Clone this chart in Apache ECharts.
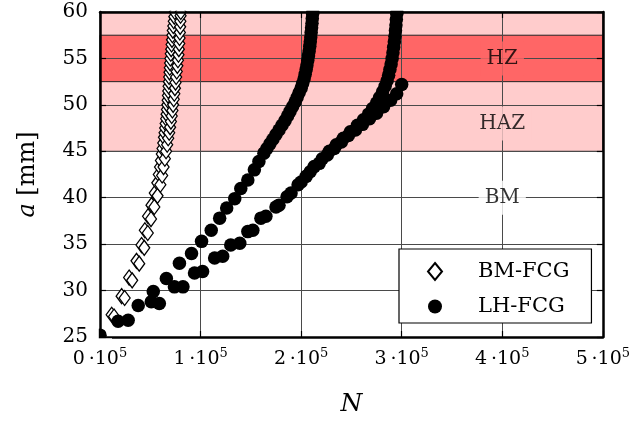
<!DOCTYPE html>
<html><head><meta charset="utf-8">
<script src="https://cdn.jsdelivr.net/npm/echarts@6/dist/echarts.min.js"></script>
<style>html,body{margin:0;padding:0;background:#fff}#c{width:633px;height:426px}</style>
</head><body><div id="c"></div>
<script>
// N in units of 1e5 cycles, a in mm
const bmTrackA = [[0.116,27.4],[0.215,29.4],[0.29,31.4],[0.363,33.2],[0.413,34.9],[0.446,36.5],[0.478,38.0],[0.512,39.2],[0.545,40.5],[0.570,41.6],[0.585,42.5],[0.597,43.3],[0.606,44.0],[0.615,44.7],[0.622,45.3],[0.629,45.9],[0.636,46.5],[0.642,47.0],[0.648,47.5],[0.653,48.0],[0.658,48.5],[0.662,49.0],[0.666,49.5],[0.670,50.0],[0.673,50.5],[0.676,51.0],[0.679,51.5],[0.682,52.0],[0.685,52.5],[0.688,53.0],[0.691,53.5],[0.694,54.0],[0.697,54.5],[0.700,55.0],[0.704,55.5],[0.708,56.0],[0.712,56.5],[0.716,57.0],[0.720,57.5],[0.724,58.0],[0.729,58.5],[0.734,59.0],[0.739,59.5],[0.744,60.0],[0.749,60.5]];
const bmTrackB = [[0.14,27.2],[0.245,29.2],[0.32,31.1],[0.39,32.9],[0.44,34.6],[0.475,36.2],[0.507,37.7],[0.54,39.0],[0.572,40.2],[0.60,41.4],[0.618,42.4],[0.632,43.3],[0.645,44.2],[0.657,45.0],[0.668,45.7],[0.678,46.4],[0.688,47.0],[0.697,47.6],[0.705,48.2],[0.713,48.8],[0.720,49.4],[0.727,50.0],[0.733,50.6],[0.739,51.2],[0.745,51.8],[0.751,52.4],[0.757,53.0],[0.763,53.6],[0.769,54.2],[0.775,54.8],[0.780,55.4],[0.784,56.0],[0.788,56.6],[0.791,57.2],[0.794,57.8],[0.797,58.4],[0.799,59.0],[0.801,59.6],[0.803,60.0]];
const lhTrack1 = [[0,25.2],[0.18,26.7],[0.38,28.4],[0.53,29.9],[0.66,31.3],[0.79,32.95],[0.91,34.0],[1.01,35.3],[1.106,36.5],[1.19,37.8],[1.26,38.9],[1.34,39.9],[1.40,41.0],[1.47,41.9],[1.535,43.0],[1.58,43.9],[1.63,44.8],[1.66,45.3],[1.69,45.8],[1.72,46.3],[1.75,46.8],[1.78,47.3],[1.81,47.8],[1.84,48.3],[1.865,48.8],[1.89,49.3],[1.915,49.8],[1.94,50.3],[1.96,50.8],[1.98,51.3],[2.00,51.8],[2.015,52.3],[2.03,52.8],[2.04,53.3],[2.05,53.8],[2.058,54.3],[2.066,54.8],[2.073,55.3],[2.08,55.8],[2.086,56.3],[2.091,56.8],[2.096,57.3],[2.10,57.8],[2.104,58.3],[2.108,58.8],[2.111,59.3],[2.114,59.8],[2.117,60.0]];
const lhTrack2 = [[0.28,26.8],[0.51,28.8],[0.74,30.4],[0.94,31.9],[1.14,33.5],[1.30,34.9],[1.47,36.35],[1.60,37.8],[1.75,39.0],[1.86,40.1],[1.97,41.4],[2.05,42.3],[2.13,43.35],[2.21,44.2],[2.28,45.0],[2.35,45.7],[2.42,46.4],[2.49,47.1],[2.56,47.8],[2.62,48.4],[2.67,49.0],[2.71,49.6],[2.75,50.2],[2.78,50.8],[2.81,51.4],[2.835,52.0],[2.855,52.6],[2.87,53.2],[2.883,53.8],[2.895,54.4],[2.905,55.0],[2.913,55.6],[2.92,56.2],[2.927,56.8],[2.933,57.4],[2.938,58.0],[2.943,58.6],[2.947,59.2],[2.951,59.8],[2.953,60.0]];
const lhTrack3 = [[0.59,28.6],[0.825,30.4],[1.02,32.05],[1.22,33.7],[1.39,35.1],[1.52,36.5],[1.65,38.0],[1.78,39.2],[1.90,40.5],[2.00,41.7],[2.09,42.8],[2.18,43.7],[2.26,44.6],[2.33,45.3],[2.40,46.0],[2.47,46.7],[2.54,47.3],[2.61,47.9],[2.68,48.5],[2.75,49.1],[2.82,49.8],[2.89,50.5],[2.95,51.2],[3.0,52.2]];
const zoneBands = [ {name:'HAZ', from:45, to:60}, {name:'HZ', from:52.5, to:57.5} ];
const zoneLabels = [ {name:'HZ', N:4, a:55}, {name:'HAZ', N:4, a:48}, {name:'BM', N:4, a:40} ];
const xRange = [0, 5], yRange = [25, 60];

const FONT = 'DejaVu Serif';
const bandColor = {HAZ:'#FFCCCC', HZ:'#FF6666'};
const labelBg = {HZ:'#FF6666', HAZ:'#FFCCCC', BM:'#ffffff'};

const chart = echarts.init(document.getElementById('c'), null, {renderer:'canvas'});
const axCommon = {
  axisLine: {show:true, onZero:false, lineStyle:{color:'#000', width:2.5}},
  axisTick: {show:true, inside:true, length:6, lineStyle:{color:'#000', width:1.2}},
};
chart.setOption({
  animation: false,
  backgroundColor: '#fff',
  grid: {left:100, right:28, top:12, bottom:89, containLabel:false},
  xAxis: [
    Object.assign({}, axCommon, {
      z: 2, type:'value', min:xRange[0], max:xRange[1], interval:1, position:'bottom',
      splitLine:{show:true, lineStyle:{color:'#4a4a4a', width:1}},
      axisLabel:{margin:10, color:'#000', formatter: v => '{n|' + v + '\u2009·10}{s|5}',
        rich:{ n:{fontFamily:FONT, fontSize:19, color:'#000', lineHeight:22, verticalAlign:'bottom'},
               s:{fontFamily:FONT, fontSize:13, color:'#000', lineHeight:22, verticalAlign:'top', padding:[0,0,8,0]} }},
      name:'N', nameLocation:'middle', nameGap:55,
      nameTextStyle:{fontFamily:FONT, fontStyle:'italic', fontSize:25, color:'#000'}
    }),
    Object.assign({}, axCommon, {
      z: 6, type:'value', min:xRange[0], max:xRange[1], interval:1, position:'top',
      splitLine:{show:false}, axisLabel:{show:false}
    })
  ],
  yAxis: [
    Object.assign({}, axCommon, {
      z: 2, type:'value', min:yRange[0], max:yRange[1], interval:5, position:'left',
      splitLine:{show:true, lineStyle:{color:'#4a4a4a', width:1}},
      axisLabel:{margin:12, color:'#000', fontFamily:FONT, fontSize:20},
      name:'{i|a} [mm]', nameLocation:'middle', nameGap:60, nameRotate:90,
      nameTextStyle:{fontFamily:FONT, fontSize:24, color:'#000',
        rich:{i:{fontFamily:FONT, fontStyle:'italic', fontSize:24, color:'#000'}}}
    }),
    Object.assign({}, axCommon, {
      z: 6, type:'value', min:yRange[0], max:yRange[1], interval:5, position:'right',
      splitLine:{show:false}, axisLabel:{show:false}
    })
  ],
  graphic: [
    // white masks that clip markers overflowing the plot frame
    {type:'rect', z:5, silent:true, shape:{x:101, y:0, width:503, height:10.8}, style:{fill:'#fff'}},
    {type:'rect', z:5, silent:true, shape:{x:90, y:322, width:8.8, height:24}, style:{fill:'#fff'}},
    {type:'rect', z:5, silent:true, shape:{x:90, y:338.3, width:22, height:6}, style:{fill:'#fff'}}
  ],
  legend: {
    data: [{name:'BM-FCG', icon:'diamond'}, {name:'LH-FCG', icon:'circle'}],
    orient:'vertical', left:399, top:249,
    itemWidth:14, itemHeight:17, itemGap:14, symbolKeepAspect:false,
    padding:[12, 22, 6, 28],
    backgroundColor:'#fff', borderColor:'#000', borderWidth:1.2, borderRadius:0,
    textStyle:{fontFamily:FONT, fontSize:21, color:'#000', padding:[0,0,0,31], lineHeight:20},
    selectedMode:false, z: 10
  },
  series: [
    { type:'scatter', name:'bands', data:[], z:1, silent:true,
      markArea:{ silent:true, z:1,
        itemStyle:{borderColor:'#222', borderWidth:1},
        data: zoneBands.map(b => [{yAxis:b.from, itemStyle:{color:bandColor[b.name], borderColor:'#222', borderWidth:1}}, {yAxis:b.to}]) } },
    { type:'scatter', name:'zones', z:3, silent:true, symbolSize:1,
      itemStyle:{color:'rgba(0,0,0,0)'},
      data: zoneLabels.map(z => ({value:[z.N, z.a], name:z.name,
        label:{show:true, position:'inside', formatter:z.name, fontFamily:FONT, fontSize:20, color:'#000',
               backgroundColor:labelBg[z.name], padding:[7,6,7,6]}})) },
    { type:'scatter', name:'BM-FCG', z:4, symbol:'diamond', symbolSize:[11,15],
      itemStyle:{color:'#fff', borderColor:'#000', borderWidth:1.3, opacity:1},
      data: bmTrackA.concat(bmTrackB) },
    { type:'scatter', name:'LH-FCG', z:4, symbol:'circle', symbolSize:13.5,
      itemStyle:{color:'#000', opacity:1},
      data: lhTrack1.concat(lhTrack2, lhTrack3) }
  ]
});
</script></body></html>
